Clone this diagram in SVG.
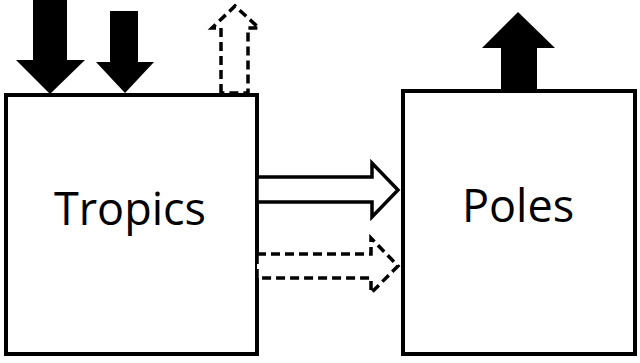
<svg xmlns="http://www.w3.org/2000/svg" width="640" height="363" viewBox="0 0 640 363">
<style>
.box{fill:#fff;stroke:#000;stroke-width:4}
.lbl{font-family:"Open Sans","Liberation Sans",sans-serif;font-size:45px;fill:#000;text-anchor:middle}
.solid{fill:#000;stroke:none}
.hollow{fill:#fff;stroke:#000;stroke-width:3.5;stroke-linejoin:miter}
.dash{fill:#fff;stroke:#000;stroke-width:3.5;stroke-dasharray:9 5}
</style>
<rect width="640" height="363" fill="#fff"/>
<g id="tropics">
<rect class="box" x="6" y="95" width="251" height="259"/>
<text class="lbl" x="130" y="225">Tropics</text>
</g>
<g id="poles">
<rect class="box" x="403" y="91" width="232" height="263"/>
<text class="lbl" x="518" y="222">Poles</text>
</g>
<g id="connectors">
<polygon class="solid" points="33,0 67,0 67,60 85,60 50,94 16,60 33,60"/>
<polygon class="solid" points="110,11 138,11 138,62 154,62 125,93 96,62 110,62"/>
<polygon class="dash" points="221,93 221,28 212,28 235,6 259,28 248,28 248,93"/>
<polygon class="solid" points="501,91 501,48 482,48 518,12 555,48 537,48 537,91"/>
<polygon class="hollow" points="257,177 372,177 372,163 398,190 372,217 372,202 257,202"/>
<polygon class="dash" points="257,254 371,254 371,238 398,266 371,293 371,278 257,278"/>
</g>
</svg>
